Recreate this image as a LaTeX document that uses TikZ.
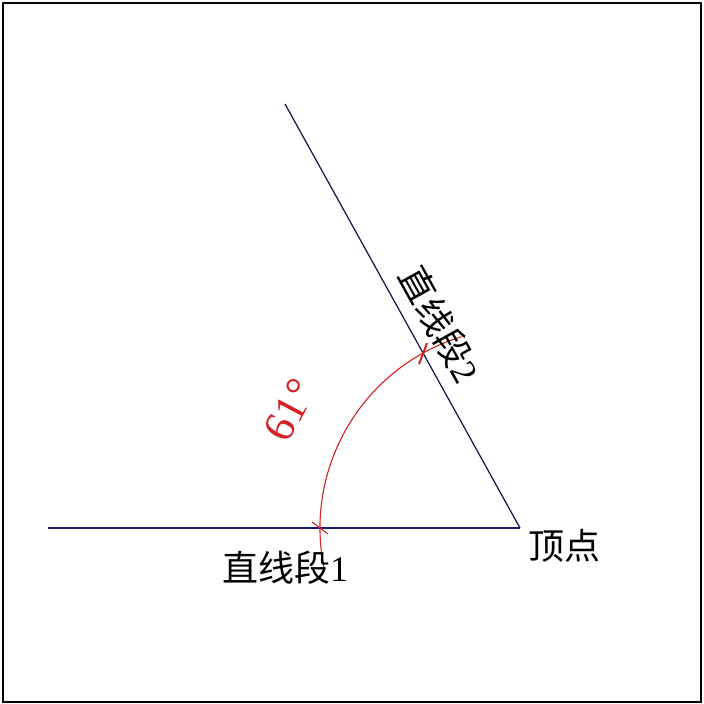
\documentclass[tikz,border=0pt]{standalone}
\usepackage{fontspec}
\setmainfont{Liberation Serif}
\newfontfamily\cjk{Noto Sans CJK SC}
\usetikzlibrary{calc}
\definecolor{navy}{HTML}{1A1A80}
\definecolor{linedark}{HTML}{10104A}
\definecolor{markred}{HTML}{D42222}
\tikzset{
  seg/.style={line width=1.2pt},
  lbl/.style={inner sep=0pt, font=\fontsize{36}{36}\selectfont},
  redmark/.style={markred, line width=1.1pt},
}
\begin{document}
\begin{tikzpicture}[x=1pt,y=1pt]
\useasboundingbox (0,0) rectangle (704,704);
\fill[white] (0,0) rectangle (704,704);
\draw[line width=2.5pt, black] (3,2) rectangle (701,701);
\coordinate (V) at (520,176);
\coordinate (A) at (48,176);
\coordinate (B) at (285,600);
\draw[seg, navy] (A) -- (V);
\draw[seg, linedark] (B) -- (V);
% arc
\draw[redmark] ($(V)+(192:200pt)$) arc[start angle=192, end angle=107, radius=200pt];
\coordinate (P1) at ($(V)+(180:200pt)$);
\coordinate (P2) at ($(V)+(119:200pt)$);
\draw[redmark] ($(P1)+(-8,6)$) -- ($(P1)+(8,-6)$);
\draw[redmark, line width=2pt] ($(P2)+(-4,-11)$) -- ($(P2)+(4,10)$);
\node[lbl] (l1) at (285,136) {{\cjk 直线段}1};
\node[lbl] (lv) at (564,158) {\cjk 顶点};
\node[lbl, rotate=-61] (l2) at (440,380) {{\cjk 直线段}2};
\node[lbl, markred, rotate=62, font=\fontsize{44}{44}\selectfont] (ang) at (290,294) {61\kern2pt°};
\end{tikzpicture}
\end{document}
